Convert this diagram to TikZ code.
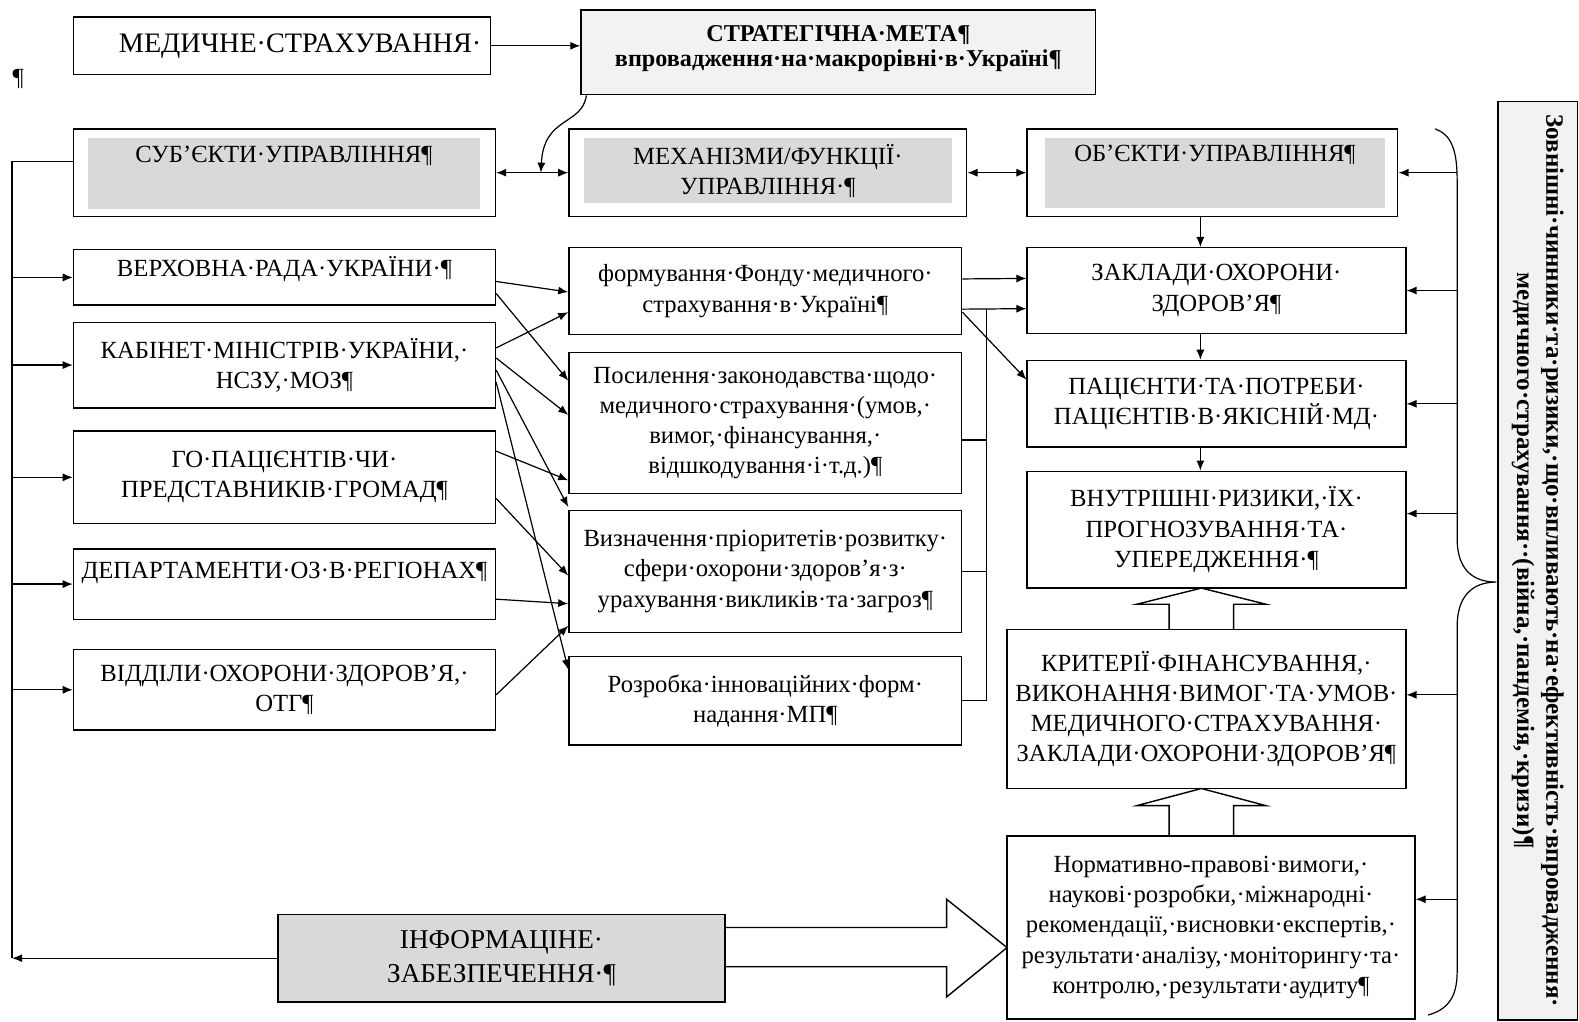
\documentclass[tikz,border=0pt]{standalone}
\usepackage{fontspec}
\setmainfont{Liberation Serif}
\usetikzlibrary{arrows.meta,calc}

\begin{document}
\begin{tikzpicture}[x=1pt, y=-1pt,
    every node/.style={font=\fontsize{24.5}{30}\selectfont},
    box/.style={draw, line width=1.4pt, fill=white, inner sep=0pt, align=center},
    shade/.style={fill=gray!30, inner sep=0pt, align=center},
    lift/.style={text height=15pt, text depth=#1},
    arr/.style={line width=1.2pt, -{Latex[length=10pt,width=8pt]}},
    dbl/.style={line width=1.2pt, {Latex[length=10pt,width=8pt]}-{Latex[length=10pt,width=8pt]}},
    line/.style={line width=1.2pt},
    hollow/.style={line width=1.4pt, line join=miter}]

    \useasboundingbox (0,0) rectangle (1568,1014);

    % top row
    \node[box, minimum width=414pt, minimum height=57pt, font=\fontsize{28}{30}\selectfont] (med) at (280,45.5) {\hspace*{36pt}МЕДИЧНЕ·СТРАХУВАННЯ·};
    \node[box, fill=gray!10, minimum width=511pt, minimum height=84pt, text depth=13pt, font=\bfseries\fontsize{24}{25}\selectfont] (goal) at (832.5,52) {СТРАТЕГІЧНА·МЕТА¶\\впровадження·на·макрорівні·в·Україні¶};
    \node (pil) at (18,78) {¶};

    % headers
    \node[box, minimum width=419pt, minimum height=87pt] (subj) at (282.5,171.5) {};
    \node[shade, minimum width=390pt, minimum height=71pt, lift=38pt] (subj-t) at (282,172.5) {СУБ’ЄКТИ·УПРАВЛІННЯ¶};
    \node[box, minimum width=395pt, minimum height=87pt] (mech) at (762.5,171.5) {};
    \node[shade, minimum width=365pt, minimum height=65pt] (mech-t) at (762.5,169.5) {МЕХАНІЗМИ/ФУНКЦІЇ·\\УПРАВЛІННЯ·¶};
    \node[box, minimum width=368pt, minimum height=87pt] (obj) at (1204,171.5) {};
    \node[shade, minimum width=337pt, minimum height=70pt, lift=38pt] (obj-t) at (1206.5,172) {ОБ’ЄКТИ·УПРАВЛІННЯ¶};

    % subjects
    \node[box, minimum width=419pt, minimum height=55pt, lift=16pt] (verh) at (282.5,275.5) {ВЕРХОВНА·РАДА·УКРАЇНИ·¶};
    \node[box, minimum width=419pt, minimum height=85pt] (kab) at (282.5,362.5) {КАБІНЕТ·МІНІСТРІВ·УКРАЇНИ,·\\НСЗУ,·МОЗ¶};
    \node[box, minimum width=419pt, minimum height=92pt] (ngo) at (282.5,474) {ГО·ПАЦІЄНТІВ·ЧИ·\\ПРЕДСТАВНИКІВ·ГРОМАД¶};
    \node[box, minimum width=419pt, minimum height=70pt, lift=26pt] (dep) at (282.5,580) {ДЕПАРТАМЕНТИ·ОЗ·В·РЕГІОНАХ¶};
    \node[box, minimum width=419pt, minimum height=80pt] (vid) at (282.5,685) {ВІДДІЛИ·ОХОРОНИ·ЗДОРОВ’Я,·\\ОТГ¶};

    % mechanisms
    \node[box, minimum width=390pt, minimum height=86pt] (form) at (760,289) {формування·Фонду·медичного·\\страхування·в·Україні¶};
    \node[box, minimum width=390pt, minimum height=140pt] (pos) at (760,420) {Посилення·законодавства·щодо·\\медичного·страхування·(умов,·\\вимог,·фінансування,·\\відшкодування·і·т.д.)¶};
    \node[box, minimum width=390pt, minimum height=121pt] (viz) at (760,567.5) {Визначення·пріоритетів·розвитку·\\сфери·охорони·здоров’я·з·\\урахування·викликів·та·загроз¶};
    \node[box, minimum width=390pt, minimum height=88pt] (roz) at (760,696) {Розробка·інноваційних·форм·\\надання·МП¶};

    % objects
    \node[box, minimum width=376pt, minimum height=85pt] (zak) at (1208,288.5) {ЗАКЛАДИ·ОХОРОНИ·\\ЗДОРОВ’Я¶};
    \node[box, minimum width=376pt, minimum height=86pt] (pac) at (1208,401) {ПАЦІЄНТИ·ТА·ПОТРЕБИ·\\ПАЦІЄНТІВ·В·ЯКІСНІЙ·МД·};
    \node[box, minimum width=376pt, minimum height=116pt] (vn) at (1208,526) {ВНУТРІШНІ·РИЗИКИ,·ЇХ·\\ПРОГНОЗУВАННЯ·ТА·\\УПЕРЕДЖЕННЯ·¶};
    \node[box, minimum width=396pt, minimum height=158pt] (krit) at (1198,704) {КРИТЕРІЇ·ФІНАНСУВАННЯ,·\\ВИКОНАННЯ·ВИМОГ·ТА·УМОВ·\\МЕДИЧНОГО·СТРАХУВАННЯ·\\ЗАКЛАДИ·ОХОРОНИ·ЗДОРОВ’Я¶};
    \node[box, minimum width=405pt, minimum height=182pt] (norm) at (1202.5,921) {Нормативно-правові·вимоги,·\\наукові·розробки,·міжнародні·\\рекомендації,·висновки·експертів,·\\результати·аналізу,·моніторингу·та·\\контролю,·результати·аудиту¶};
    \node[box, fill=gray!30, minimum width=444pt, minimum height=87pt, font=\fontsize{27}{33}\selectfont] (inf) at (498,951.5) {ІНФОРМАЦІНЕ·\\ЗАБЕЗПЕЧЕННЯ·¶};

    % external factors
    \node[draw, line width=1.4pt, fill=gray!10, minimum width=912pt, minimum height=79pt, inner sep=0pt, rotate=-90, align=center, font=\bfseries\fontsize{24.8}{29}\selectfont] (ext) at (1527,557) {Зовнішні·чинники·та·ризики,·що·впливають·на·ефективність·впровадження·\\медичного·страхування··(війна,·пандемія,·кризи)¶};

    % top arrows
    \draw[arr] (med.east) -- (med.east -| goal.west);
    \coordinate (hit) at ($(subj.east)!0.62!(mech.west)$);
    \draw[dbl] (subj.east) -- (mech.west);
    \draw[dbl] (mech.east) -- (obj.west);
    \draw[arr] ($(goal.south west)+(6,0)$) .. controls (578,125) and (540,115) .. (hit);

    % left rail
    \coordinate (rail) at (12,0);
    \draw[line] ($(subj.west)+(0,-11)$) -| (rail |- inf.west);
    \draw[arr] (inf.west) -- (rail |- inf.west);
    \foreach \n in {verh,kab,ngo,dep,vid}
        \draw[arr] (rail |- \n.west) -- (\n.west);

    % subjects to mechanisms
    \draw[arr] ($(verh.east)+(0,4)$) -- ($(form.west)+(0,1)$);
    \draw[arr] ($(verh.east)+(0,16)$) -- ($(pos.west)+(0,-42)$);
    \draw[arr] ($(kab.east)+(0,-17)$) -- ($(form.west)+(0,21)$);
    \draw[arr] ($(kab.east)+(0,-7)$) -- ($(pos.west)+(0,-8)$);
    \draw[arr] ($(kab.east)+(0,5)$) -- ($(viz.west)+(0,-64)$);
    \draw[arr] ($(kab.east)+(0,17)$) -- ($(roz.west)+(0,-31)$);
    \draw[arr] ($(ngo.east)+(0,-26)$) -- ($(pos.west)+(0,57)$);
    \draw[arr] ($(ngo.east)+(0,21)$) -- ($(viz.west)+(0,4)$);
    \draw[arr] ($(dep.east)+(0,15)$) -- ($(viz.west)+(0,32)$);
    \draw[arr] ($(vid.east)+(0,5)$) -- ($(viz.west)+(0,54)$);

    % mechanisms to objects
    \coordinate (bus) at (980,307);
    \draw[arr] ($(form.east)+(0,-12)$) -- ($(zak.west)+(0,-12)$);
    \draw[arr] ($(form.east)+(0,18)$) -- ($(zak.west)+(0,18)$);
    \draw[arr] ($(form.east)+(0,21)$) -- ($(pac.west)+(0,-24)$);
    \draw[line] ($(pos.east)+(0,17)$) -| (bus);
    \draw[line] (viz.east) -| (bus);
    \draw[line] (roz.east) -| (bus);

    % objects chain
    \coordinate (ax) at (1192,0);
    \draw[arr] (ax |- obj.south) -- (ax |- zak.north);
    \draw[arr] (ax |- zak.south) -- (ax |- pac.north);
    \draw[arr] (ax |- pac.south) -- (ax |- vn.north);

    % block arrows
    \draw[hollow] (1161,625) -- (1161,600) -- (1129,600) -- (1193,584) -- (1257,600) -- (1225,600) -- (1225,625);
    \draw[hollow] (1161,830) -- (1161,800) -- (1129,800) -- (1193,783) -- (1257,800) -- (1225,800) -- (1225,830);
    \draw[hollow] (720,921) -- (940,921) -- (940,893) -- (1000,941) -- (940,990) -- (940,960) -- (720,960);

    % brace and external arrows
    \draw[line] (1425,128) .. controls (1442,134) and (1447,150) .. (1447,180) -- (1447,535) .. controls (1447,565) and (1462,578) .. (1486,578) .. controls (1462,578) and (1447,592) .. (1447,622) -- (1447,965) .. controls (1447,992) and (1436,1003) .. (1418,1008);
    \coordinate (br) at (1447,0);
    \draw[arr] (br |- obj.east) -- (obj.east);
    \draw[arr] (br |- zak.east) -- (zak.east);
    \draw[arr] (br |- pac.east) -- (pac.east);
    \draw[arr] ($(br |- vn.east)+(0,-16)$) -- ($(vn.east)+(0,-16)$);
    \draw[arr] ($(br |- krit.east)+(0,-14)$) -- ($(krit.east)+(0,-14)$);
    \draw[arr] ($(br |- norm.east)+(0,-28)$) -- ($(norm.east)+(0,-28)$);
\end{tikzpicture}
\end{document}
